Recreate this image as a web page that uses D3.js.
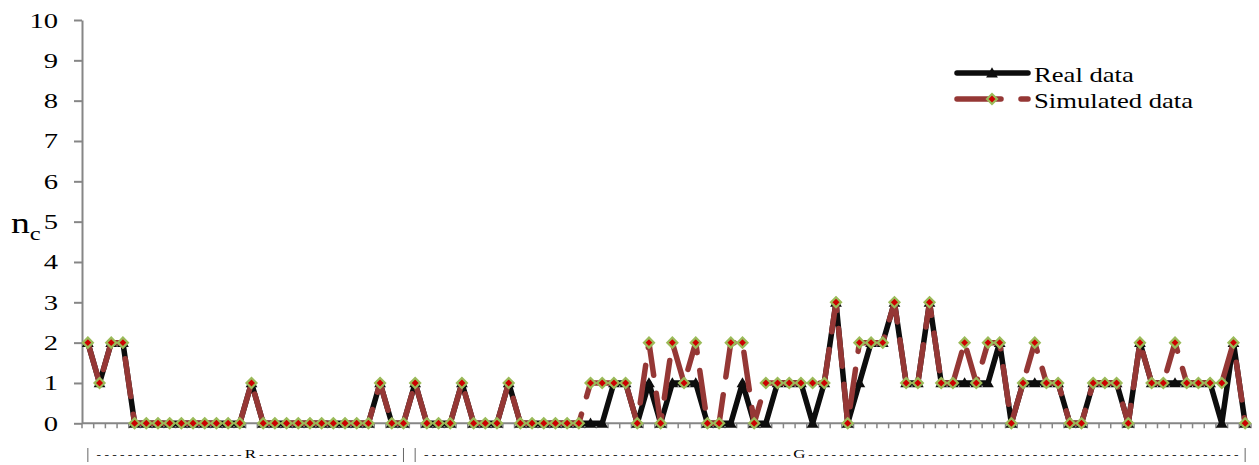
<!DOCTYPE html>
<html>
<head>
<meta charset="utf-8">
<script src="https://cdn.jsdelivr.net/npm/d3@7"></script>
<style>
  html, body { margin: 0; padding: 0; background: #fff; }
  svg { display: block; font-family: "Liberation Serif", "Times New Roman", serif; }
</style>
</head>
<body>
<svg id="chart" width="1259" height="465"></svg>
<script>
// Number of components n_c per sample, observed vs. simulated
const realData = [
  2, 1, 2, 2, 0, 0, 0, 0, 0, 0, 0, 0, 0, 0, 1, 0, 0, 0, 0, 0,
  0, 0, 0, 0, 0, 1, 0, 0, 1, 0, 0, 0, 1, 0, 0, 0, 1, 0, 0, 0,
  0, 0, 0, 0, 0, 1, 1, 0, 1, 0, 1, 1, 1, 0, 0, 0, 1, 0, 0, 1,
  1, 1, 0, 1, 3, 0, 1, 2, 2, 3, 1, 1, 3, 1, 1, 1, 1, 1, 2, 0,
  1, 1, 1, 1, 0, 0, 1, 1, 1, 0, 2, 1, 1, 1, 1, 1, 1, 0, 2, 0
];
const simData = [
  2, 1, 2, 2, 0, 0, 0, 0, 0, 0, 0, 0, 0, 0, 1, 0, 0, 0, 0, 0,
  0, 0, 0, 0, 0, 1, 0, 0, 1, 0, 0, 0, 1, 0, 0, 0, 1, 0, 0, 0,
  0, 0, 0, 1, 1, 1, 1, 0, 2, 0, 2, 1, 2, 0, 0, 2, 2, 0, 1, 1,
  1, 1, 1, 1, 3, 0, 2, 2, 2, 3, 1, 1, 3, 1, 1, 2, 1, 2, 2, 0,
  1, 2, 1, 1, 0, 0, 1, 1, 1, 0, 2, 1, 1, 2, 1, 1, 1, 1, 2, 0
];
const categories = d3.range(realData.length);
const yTicks = d3.range(0, 11);
const groupNames = ["R", "G"];
const groupStarts = [0, 28];
const groupEnds = [27, 99];
const seriesNames = ["Real data", "Simulated data"];

(function draw() {
  const SX = 1.3;            // horizontal stretch of the text glyphs
  const svg = d3.select("#chart");
  const plotL = 82, plotR = 1251, plotT = 20, plotB = 423.3;
  const axisColor = "#868686";
  const realColor = "#0d0d0d";
  const simColor = "#953735";
  const diamondFill = "#cc0000";
  const diamondStroke = "#9bbb59";

  const x = d3.scaleBand().domain(categories).range([plotL, plotR]).paddingInner(0).paddingOuter(0);
  const y = d3.scaleLinear().domain([0, 10]).range([plotB, plotT]);
  const cx = i => x(i) + x.bandwidth() / 2;

  // stretched text helper
  function sText(g, tx, ty, str, size, anchor) {
    return g.append("text")
      .attr("transform", `translate(${tx},${ty}) scale(${SX},1)`)
      .attr("text-anchor", anchor || "start")
      .attr("font-size", size)
      .attr("fill", "#000")
      .text(str);
  }

  // Y axis
  const yAxis = svg.append("g").attr("transform", `translate(${plotL},0)`)
    .call(d3.axisLeft(y).tickValues(yTicks).tickSize(8).tickSizeOuter(0).tickFormat(""));
  yAxis.select(".domain").attr("stroke", axisColor).attr("stroke-width", 2);
  yAxis.selectAll(".tick line").attr("stroke", axisColor).attr("stroke-width", 2);
  yTicks.forEach(t => {
    sText(svg, plotL - 24, y(t) + 7.5, String(t), 22, "end");
  });

  // axis title n_c
  const ttl = svg.append("text")
    .attr("transform", `translate(11,233) scale(${SX},1)`)
    .attr("font-size", 29);
  ttl.append("tspan").text("n");
  ttl.append("tspan").attr("font-size", 19).attr("dy", 7).text("c");

  // X axis
  const xg = svg.append("g");
  xg.append("line")
    .attr("x1", plotL).attr("x2", plotR).attr("y1", y(0)).attr("y2", y(0))
    .attr("stroke", axisColor).attr("stroke-width", 2);
  const boundaries = categories.map(i => x(i)).concat([x(categories[categories.length - 1]) + x.bandwidth()]);
  xg.selectAll("line.tk").data(boundaries).join("line")
    .attr("class", "tk")
    .attr("x1", d => d).attr("x2", d => d)
    .attr("y1", y(0)).attr("y2", y(0) + 5)
    .attr("stroke", axisColor).attr("stroke-width", 1.5);

  // Group labels: | - - - R - - - |
  const labelY = 458;
  const dashStep = 7.8;
  const dashG = svg.append("g").attr("font-size", 10.5).attr("text-anchor", "middle");
  function dashRun(x0, x1) {
    const n = Math.max(1, Math.round((x1 - x0) / dashStep) + 1);
    const step = n > 1 ? (x1 - x0) / (n - 1) : 0;
    d3.range(n).forEach(j => {
      dashG.append("text")
        .attr("transform", `translate(${x0 + j * step},${labelY}) scale(${SX},1)`)
        .text("-");
    });
  }
  const labelFrac = [0.515, 0.463];
  groupNames.forEach((name, k) => {
    const xa = cx(groupStarts[k]);
    const xb = cx(groupEnds[k]);
    [xa, xb].forEach(xx => {
      svg.append("line")
        .attr("x1", xx).attr("x2", xx).attr("y1", 448).attr("y2", 462)
        .attr("stroke", "#666").attr("stroke-width", 1);
    });
    const xm = xa + (xb - xa) * labelFrac[k];
    sText(svg, xm, labelY, name, 13, "middle");
    dashRun(xa + 11, xm - 11);
    dashRun(xm + 11, xb - 9);
  });

  // series drawing
  const line = d3.line().x((d, i) => cx(i)).y(d => y(d));
  const tri = d3.symbol().type(d3.symbolTriangle).size(60);

  // Real data: solid black line with triangles
  svg.append("path").datum(realData)
    .attr("d", line)
    .attr("fill", "none").attr("stroke", realColor)
    .attr("stroke-width", 5.5).attr("stroke-linejoin", "round");
  svg.append("g").selectAll("path").data(realData).join("path")
    .attr("d", tri)
    .attr("transform", (d, i) => `translate(${cx(i)},${y(d) + 1})`)
    .attr("fill", realColor);

  // Simulated data: long-dash brown line with red diamonds
  svg.append("path").datum(simData)
    .attr("d", line)
    .attr("fill", "none").attr("stroke", simColor)
    .attr("stroke-width", 5.5).attr("stroke-linecap", "round")
    .attr("stroke-linejoin", "round")
    .attr("stroke-dasharray", "38,18");
  const diamond = r => `M0,${-r}L${r},0L0,${r}L${-r},0Z`;
  svg.append("g").selectAll("path").data(simData).join("path")
    .attr("d", diamond(5))
    .attr("transform", (d, i) => `translate(${cx(i)},${y(d)})`)
    .attr("fill", diamondFill)
    .attr("stroke", diamondStroke).attr("stroke-width", 2.2);

  // Legend
  const lg = svg.append("g");
  const lx0 = 957, lx1 = 1028, lmid = 992;
  lg.append("line").attr("x1", lx0).attr("x2", lx1).attr("y1", 73).attr("y2", 73)
    .attr("stroke", realColor).attr("stroke-width", 5.5).attr("stroke-linecap", "round");
  lg.append("path").attr("d", tri).attr("transform", `translate(${lmid},${74})`).attr("fill", realColor);
  sText(lg, 1034, 81.5, seriesNames[0], 20.5);

  lg.append("line").attr("x1", lx0).attr("x2", lx1).attr("y1", 99).attr("y2", 99)
    .attr("stroke", simColor).attr("stroke-width", 5.5).attr("stroke-linecap", "round")
    .attr("stroke-dasharray", "44,20");
  lg.append("path").attr("d", diamond(5)).attr("transform", `translate(${lmid},99)`)
    .attr("fill", diamondFill).attr("stroke", diamondStroke).attr("stroke-width", 2.2);
  sText(lg, 1034, 108, seriesNames[1], 20.5);
})();
</script>
</body>
</html>
